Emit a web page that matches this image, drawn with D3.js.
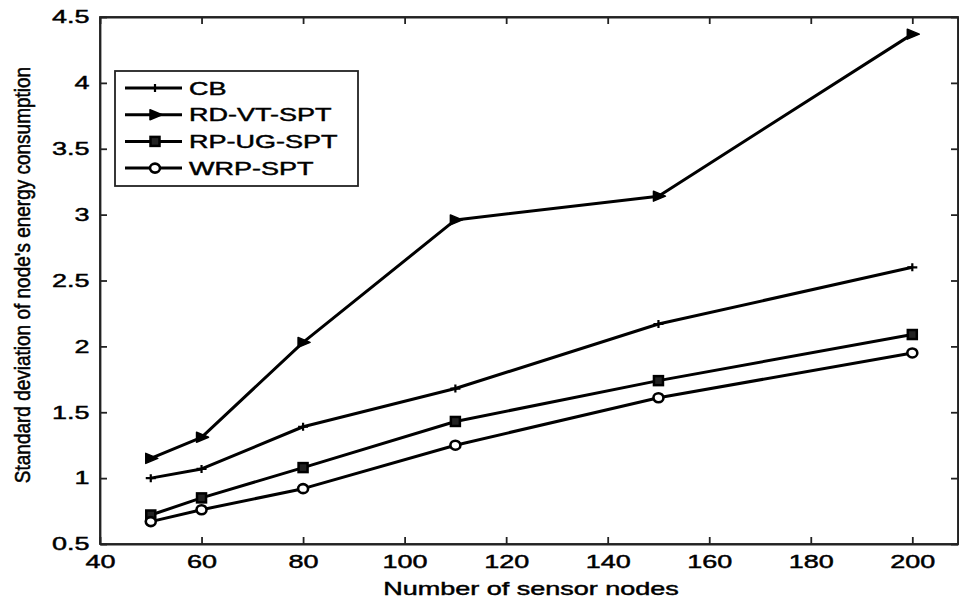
<!DOCTYPE html>
<html>
  <head>
    <script src="https://d3js.org/d3.v7.min.js"></script>
    <style>
      body { margin: 0; background: #fff; }
      text { font-family: "Liberation Sans", Arial, sans-serif; fill: #000; stroke: #000; stroke-width: 0.45px; }
      .axis text { font-size: 18px; }
      .axis path, .axis line { stroke: #222; stroke-width: 1.8; }
    </style>
  </head>
  <body>
    <svg width="959" height="603"></svg>
    <script>
      const nodes = [50, 60, 80, 110, 150, 200];
      const cb = [1.00, 1.07, 1.39, 1.68, 2.17, 2.60];
      const rdvt = [1.15, 1.31, 2.03, 2.96, 3.14, 4.37];
      const rpug = [0.72, 0.85, 1.08, 1.43, 1.74, 2.09];
      const wrp = [0.67, 0.76, 0.92, 1.25, 1.61, 1.95];
      const seriesNames = ["CB", "RD-VT-SPT", "RP-UG-SPT", "WRP-SPT"];
      const markerTypes = ["plus", "triangle", "square", "circle"];
      const xTicks = [40, 60, 80, 100, 120, 140, 160, 180, 200];
      const yTicks = [0.5, 1, 1.5, 2, 2.5, 3, 3.5, 4, 4.5];

      const stretch = 1.5; // text in the picture is squeezed wide
      const svg = d3.select("svg");
      const mLeft = 100, mRight = 958, mTop = 17, mBottom = 544;

      const x = d3.scaleLinear().domain([40, 209]).range([mLeft, mRight]);
      const y = d3.scaleLinear().domain([0.5, 4.5]).range([mBottom, mTop]);

      // frame
      svg.append("rect")
          .attr("x", mLeft).attr("y", mTop)
          .attr("width", mRight - mLeft).attr("height", mBottom - mTop)
          .attr("fill", "none").attr("stroke", "#222").attr("stroke-width", 1.8);

      const gx = svg.append("g").attr("class", "axis")
          .attr("transform", `translate(0,${mBottom})`)
          .call(d3.axisBottom(x).tickValues(xTicks).tickSize(-7).tickSizeOuter(0).tickPadding(11));
      gx.selectAll("text").attr("transform", `scale(${stretch},1)`);

      const gy = svg.append("g").attr("class", "axis")
          .attr("transform", `translate(${mLeft},0)`)
          .call(d3.axisLeft(y).tickValues(yTicks).tickSize(-7).tickSizeOuter(0).tickPadding(7).tickFormat(d3.format("")));
      gy.selectAll("text").attr("transform", `scale(${stretch},1)`);

      svg.append("g").attr("class", "axis")
          .attr("transform", `translate(0,${mTop})`)
          .call(d3.axisTop(x).tickValues(xTicks).tickSize(-7).tickSizeOuter(0).tickFormat(""));
      svg.append("g").attr("class", "axis")
          .attr("transform", `translate(${mRight},0)`)
          .call(d3.axisRight(y).tickValues(yTicks).tickSize(-7).tickSizeOuter(0).tickFormat(""));

      // axis titles
      svg.append("text")
          .attr("transform", `translate(531,595) scale(${stretch},1)`)
          .attr("text-anchor", "middle")
          .style("font-size", "18px")
          .text("Number of sensor nodes");
      svg.append("text")
          .attr("transform", `translate(30,275) scale(1.2,1) rotate(-90)`)
          .attr("text-anchor", "middle")
          .style("font-size", "19px")
          .text("Standard deviation of node's energy consumption");

      function marker(g, type) {
        if (type === "plus") {
          g.append("path").attr("d", "M-5,0H5M0,-4V4")
              .attr("stroke", "#000").attr("stroke-width", 2.2).attr("fill", "none");
        } else if (type === "triangle") {
          g.append("path").attr("d", "M-5,-5L7,0L-5,5Z")
              .attr("fill", "#000").attr("stroke", "#000").attr("stroke-width", 1.5)
              .attr("stroke-linejoin", "round");
        } else if (type === "square") {
          g.append("rect").attr("x", -4.5).attr("y", -4.5).attr("width", 9).attr("height", 9)
              .attr("fill", "#222").attr("stroke", "#000").attr("stroke-width", 2.5);
        } else {
          g.append("ellipse").attr("rx", 5).attr("ry", 4.5)
              .attr("fill", "#fff").attr("stroke", "#000").attr("stroke-width", 2.6);
        }
      }

      const allSeries = [cb, rdvt, rpug, wrp];
      const line = d3.line().x((d, i) => x(nodes[i])).y(d => y(d));

      allSeries.forEach((vals, k) => {
        svg.append("path")
            .datum(vals)
            .attr("d", line)
            .attr("fill", "none")
            .attr("stroke", "#000")
            .attr("stroke-width", 3)
            .attr("stroke-linejoin", "round");
        svg.append("g").selectAll("g")
            .data(vals)
            .join("g")
            .attr("transform", (d, i) => `translate(${x(nodes[i])},${y(d)})`)
            .each(function() { marker(d3.select(this), markerTypes[k]); });
      });

      // legend
      const legend = svg.append("g").attr("transform", "translate(115,71)");
      legend.append("rect")
          .attr("width", 243).attr("height", 115)
          .attr("fill", "#fff").attr("stroke", "#222").attr("stroke-width", 1.8);
      const item = legend.selectAll(".item")
          .data(seriesNames)
          .join("g")
          .attr("class", "item")
          .attr("transform", (d, i) => `translate(0,${17 + i * 26.7})`);
      item.append("line")
          .attr("x1", 10).attr("x2", 67)
          .attr("stroke", "#000").attr("stroke-width", 3);
      item.append("g")
          .attr("transform", "translate(40,0)")
          .each(function(d, i) { marker(d3.select(this), markerTypes[i]); });
      item.append("text")
          .attr("transform", `translate(74,6.5) scale(${stretch},1)`)
          .style("font-size", "18px")
          .text(d => d);
    </script>
  </body>
</html>
